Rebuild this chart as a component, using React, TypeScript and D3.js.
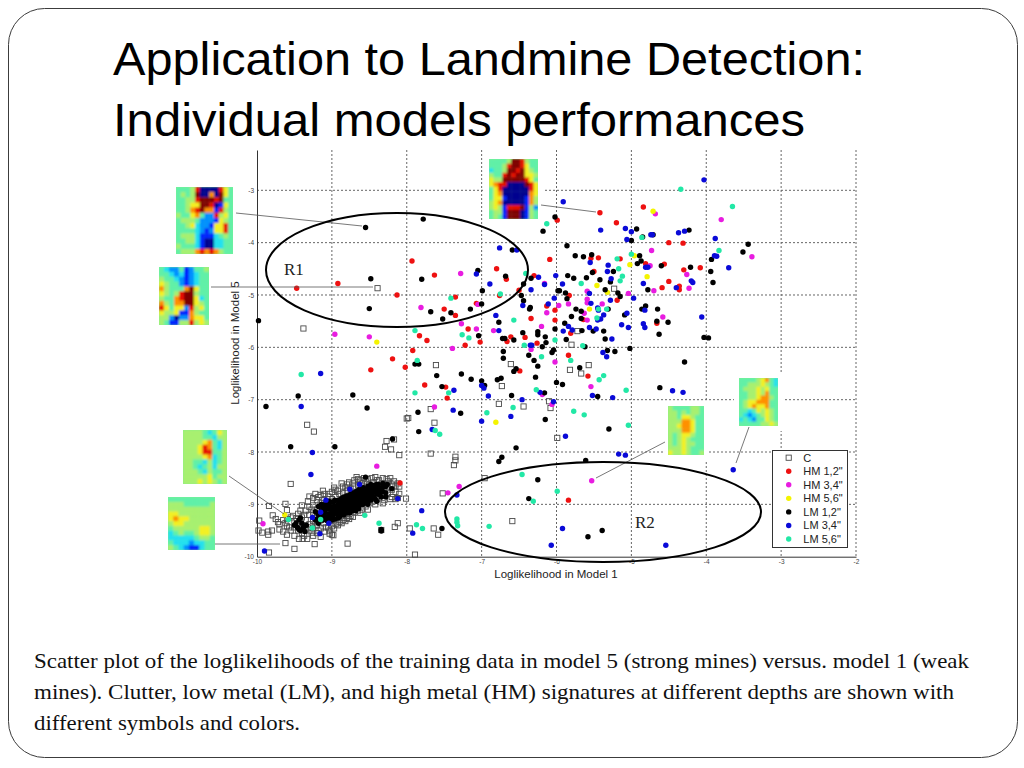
import React, { useEffect, useRef } from 'react';
import * as d3 from 'd3';

type Pt = number[];

const xTicks = [-10, -9, -8, -7, -6, -5, -4, -3, -2];
const yTicks = [-10, -9, -8, -7, -6, -5, -4, -3];

const clutterScatter: Pt[] = [
  [-8.39,-4.87],[-9.38,-5.64],[-7.61,-6.34],[-6.61,-6.32],[-5.23,-4.88],[-5.72,-5.69],[-5.80,-5.95],[-5.57,-6.34],[-5.82,-6.43],[-5.67,-6.50],
  [-6.73,-6.74],[-6.77,-7.08],[-6.44,-7.13],[-6.10,-7.03],[-6.08,-7.16],[-7.68,-7.18],[-8.0,-7.36],[-7.98,-7.35],[-7.63,-7.44],[-9.33,-7.48],
  [-9.24,-7.61],[-8.27,-7.79],[-8.29,-7.90],[-8.17,-7.76],[-8.21,-7.95],[-8.10,-8.06],[-7.68,-8.03],[-7.35,-8.09],[-7.35,-8.16],[-7.37,-8.25],
  [-5.99,-7.73],[-6.96,-8.50],[-9.55,-8.61],[-7.52,-8.79],[-8.01,-8.89],[-9.84,-9.03],[-9.62,-8.99],[-9.60,-9.11],[-9.79,-9.21],[-9.97,-9.31],
  [-6.59,-9.32],[-8.12,-9.36],[-8.16,-9.43],[-7.96,-9.46],[-7.64,-9.46],[-7.58,-9.58],[-8.34,-9.49],[-8.79,-9.75],[-9.23,-9.76],[-9.62,-9.74],
  [-9.50,-9.85],[-9.84,-9.92],[-7.89,-9.96],[-9.44,-9.66],[-9.39,-9.66],[-9.33,-9.66],[-9.98,-9.50],[-9.93,-9.54],[-9.85,-9.52],[-9.80,-9.50],
  [-9.85,-9.58],[-8.98,-9.59],[-9.03,-9.56],
];
const clutterCluster: Pt[] = [
  [-9.75,-9.28],[-9.7,-9.38],[-9.7,-9.48],[-9.65,-9.3],[-9.65,-9.52],[-9.6,-9.42],[-9.6,-9.28],[-9.6,-9.58],[-9.55,-9.25],[-9.55,-9.5],
  [-9.5,-9.32],[-9.5,-9.44],[-9.5,-9.6],[-9.45,-9.18],[-9.45,-9.5],[-9.45,-9.38],[-9.4,-9.25],[-9.4,-9.42],[-9.4,-9.55],[-9.4,-9.02],
  [-9.35,-9.12],[-9.35,-9.3],[-9.35,-9.48],[-9.3,-8.85],[-9.3,-9.05],[-9.3,-9.2],[-9.3,-9.38],[-9.3,-9.5],[-9.25,-8.88],[-9.25,-9.02],
  [-9.25,-9.16],[-9.25,-9.32],[-9.25,-9.46],[-9.25,-9.6],[-9.2,-8.92],[-9.2,-9.1],[-9.2,-9.24],[-9.2,-9.4],[-9.2,-9.55],[-9.15,-8.82],
  [-9.15,-8.98],[-9.15,-9.12],[-9.15,-9.3],[-9.15,-9.46],[-9.15,-9.62],[-9.1,-8.8],[-9.1,-8.92],[-9.1,-9.06],[-9.1,-9.2],[-9.1,-9.36],
  [-9.1,-9.52],[-9.05,-8.85],[-9.05,-9.0],[-9.05,-9.14],[-9.05,-9.28],[-9.05,-9.44],[-9,-8.76],[-9,-8.9],[-9,-9.02],[-9,-9.16],
  [-9,-9.3],[-9,-9.42],[-9,-9.58],[-8.95,-8.72],[-8.95,-8.86],[-8.95,-9.0],[-8.95,-9.12],[-8.95,-9.26],[-8.95,-9.38],[-8.9,-8.8],
  [-8.9,-8.94],[-8.9,-9.08],[-8.9,-9.22],[-8.9,-9.34],[-8.85,-8.66],[-8.85,-8.78],[-8.85,-8.92],[-8.85,-9.04],[-8.85,-9.18],[-8.85,-9.3],
  [-8.8,-8.62],[-8.8,-8.74],[-8.8,-8.86],[-8.8,-9.0],[-8.8,-9.14],[-8.8,-9.26],[-8.75,-8.7],[-8.75,-8.82],[-8.75,-8.96],[-8.75,-9.08],
  [-8.75,-9.22],[-8.7,-8.54],[-8.7,-8.66],[-8.7,-8.78],[-8.7,-8.9],[-8.7,-9.04],[-8.7,-9.16],[-8.65,-8.52],[-8.65,-8.64],[-8.65,-8.76],
  [-8.65,-8.88],[-8.65,-9.0],[-8.65,-9.12],[-8.6,-8.6],[-8.6,-8.72],[-8.6,-8.84],[-8.6,-8.96],[-8.6,-9.1],[-8.55,-8.56],[-8.55,-8.68],
  [-8.55,-8.8],[-8.55,-8.92],[-8.55,-9.04],[-8.5,-8.62],[-8.5,-8.74],[-8.5,-8.86],[-8.5,-8.98],[-8.45,-8.58],[-8.45,-8.7],[-8.45,-8.82],
  [-8.45,-8.94],[-8.4,-8.54],[-8.4,-8.66],[-8.4,-8.78],[-8.4,-8.9],[-8.35,-8.62],[-8.35,-8.72],[-8.35,-8.84],[-8.3,-8.6],[-8.3,-8.7],
  [-8.3,-8.82],[-8.3,-8.92],[-8.25,-8.56],[-8.25,-8.66],[-8.25,-8.78],[-8.2,-8.62],[-8.2,-8.72],[-8.2,-8.86],[-8.15,-8.64],[-8.15,-8.76],
  [-8.15,-8.9],[-8.1,-8.66],[-8.1,-8.8],
  [-9.72,-9.34],[-9.62,-9.36],[-9.57,-9.44],[-9.52,-9.22],[-9.47,-9.26],[-9.42,-9.12],[-9.37,-9.2],[-9.37,-9.6],[-9.32,-8.94],[-9.32,-9.44],
  [-9.27,-9.1],[-9.27,-9.54],[-9.22,-8.8],[-9.22,-9.34],[-9.18,-8.86],[-9.18,-9.5],[-9.12,-8.74],[-9.08,-9.44],[-9.03,-8.8],[-9.03,-9.5],
  [-8.97,-8.68],[-8.97,-9.46],[-8.92,-8.74],[-8.92,-9.4],[-8.87,-8.6],[-8.87,-9.36],[-8.82,-8.68],[-8.82,-9.32],[-8.77,-8.58],[-8.77,-9.28],
  [-8.72,-8.6],[-8.72,-9.24],[-8.67,-8.48],[-8.62,-8.54],[-8.62,-9.16],[-8.57,-8.5],[-8.52,-8.52],[-8.52,-9.1],[-8.47,-8.5],[-8.42,-8.48],
  [-8.42,-9.0],[-8.37,-8.54],[-8.32,-8.5],[-8.32,-8.98],[-8.27,-8.52],[-8.22,-8.5],[-8.22,-8.9],[-8.17,-8.56],[-8.12,-8.6],[-8.12,-8.88],
];
const hm12: Pt[] = [
  [-7.93,-4.35],[-8.92,-4.78],[-9.47,-4.87],[-8.13,-5.0],[-7.63,-4.62],[-6.80,-4.50],[-6.67,-4.70],[-7.35,-5.04],[-7.50,-5.27],[-7.35,-5.39],
  [-7.07,-5.16],[-6.76,-5.01],[-6.50,-4.91],[-6.30,-4.63],[-6.09,-4.32],[-5.99,-3.57],[-6.13,-5.21],[-6.02,-5.29],[-6.02,-5.48],[-6.34,-5.45],
  [-7.83,-5.78],[-7.73,-5.87],[-7.92,-6.06],[-8.19,-6.22],[-8.02,-6.38],[-8.48,-6.43],[-7.18,-5.65],[-7.02,-5.90],[-7.22,-5.96],[-6.66,-5.89],
  [-6.61,-5.80],[-6.42,-5.81],[-6.26,-5.92],[-5.42,-3.43],[-4.84,-3.32],[-5.20,-3.62],[-4.50,-4.0],[-4.31,-4.01],[-5.44,-4.29],[-5.54,-4.30],
  [-5.15,-4.31],[-5.50,-4.55],[-4.81,-4.40],[-4.56,-4.41],[-4.30,-4.52],[-4.08,-4.48],[-4.50,-4.74],[-4.59,-4.86],[-4.36,-4.83],[-4.36,-4.90],
  [-5.83,-5.01],[-5.19,-5.10],[-5.64,-5.47],[-4.66,-5.54],[-5.81,-5.73],[-5.84,-6.15],[-7.76,-6.72],[-7.48,-6.76],[-7.46,-6.97],[-6.49,-6.45],
  [-8.09,-8.59],[-5.58,-6.55],[-5.84,-8.92],
];
const hm34: Pt[] = [
  [-7.28,-4.59],[-7.81,-5.24],[-8.96,-5.75],[-8.50,-5.80],[-7.27,-5.55],[-7.07,-5.65],[-6.84,-5.68],[-7.05,-5.18],[-7.39,-6.02],[-6.16,-4.78],
  [-6.13,-5.34],[-6.20,-5.60],[-6.34,-6.04],[-6.02,-6.28],[-4.68,-3.45],[-3.80,-3.56],[-4.73,-4.15],[-3.39,-4.27],[-4.75,-4.44],[-4.26,-4.61],
  [-4.23,-4.87],[-4.70,-4.92],[-5.59,-4.93],[-5.59,-5.08],[-5.59,-5.15],[-5.04,-4.97],[-5.84,-5.17],[-5.97,-5.20],[-5.39,-5.17],[-5.63,-5.35],
  [-4.58,-5.42],[-5.59,-5.48],[-7.63,-7.14],[-8.40,-8.27],[-7.30,-8.66],[-7.45,-8.78],[-9.92,-9.37],[-6.19,-6.90],[-6.06,-7.09],[-5.54,-6.75],
  [-5.53,-8.55],
];
const hm56: Pt[] = [
  [-8.40,-5.90],[-4.71,-3.40],[-4.96,-4.25],[-5.02,-4.42],[-4.79,-4.65],[-5.46,-4.82],[-5.32,-4.95],[-5.56,-5.27],[-6.81,-7.43],[-9.63,-9.20],
];
const lm12Scatter: Pt[] = [
  [-8.55,-3.71],[-7.78,-3.55],[-8.48,-4.69],[-7.80,-4.70],[-8.50,-5.26],[-9.98,-5.49],[-7.05,-4.53],[-6.68,-4.64],[-6.59,-4.14],[-6.44,-4.79],
  [-6.34,-4.68],[-6.99,-4.92],[-7.0,-5.17],[-6.47,-5.01],[-6.44,-5.11],[-6.35,-5.24],[-6.36,-5.27],[-7.15,-5.27],[-7.41,-5.34],[-7.68,-5.32],
  [-7.52,-5.46],[-6.77,-5.52],[-7.04,-5.78],[-6.72,-5.83],[-6.69,-5.83],[-6.57,-5.86],[-6.45,-5.72],[-6.25,-5.70],[-6.25,-5.76],[-6.14,-5.91],
  [-6.19,-5.99],[-6.15,-5.80],[-6.02,-5.65],[-6.04,-6.05],[-6.06,-6.10],[-6.71,-6.08],[-6.71,-6.21],[-6.37,-6.15],[-6.30,-6.25],[-6.25,-6.36],
  [-7.89,-6.32],[-7.84,-6.32],[-6.54,-6.41],[-6.57,-6.46],[-6.02,-3.51],[-6.18,-3.78],[-5.98,-4.92],[-4.93,-3.74],[-4.85,-3.89],[-4.71,-3.85],
  [-5.0,-3.96],[-4.23,-3.76],[-5.86,-4.06],[-5.75,-4.25],[-5.64,-4.27],[-5.53,-4.23],[-4.89,-4.25],[-4.87,-4.35],[-4.92,-4.40],[-4.60,-4.44],
  [-3.44,-4.03],[-3.51,-4.18],[-3.93,-4.32],[-4.21,-4.47],[-3.94,-4.55],[-3.91,-4.76],[-5.24,-4.55],[-5.52,-4.57],[-5.60,-4.67],[-5.42,-4.71],
  [-5.85,-4.63],[-5.77,-4.68],[-5.28,-4.75],[-5.35,-4.90],[-4.78,-4.90],[-5.18,-4.96],[-5.15,-5.03],[-5.96,-4.92],[-5.88,-4.96],[-5.86,-5.07],
  [-5.74,-5.27],[-5.67,-5.31],[-5.80,-5.41],[-5.67,-5.45],[-5.31,-5.27],[-4.81,-5.21],[-4.86,-5.27],[-4.65,-5.27],[-5.09,-5.38],[-5.89,-5.54],
  [-5.66,-5.68],[-5.51,-5.69],[-5.37,-5.69],[-4.66,-5.50],[-4.51,-5.52],[-4.63,-5.75],[-4.03,-5.81],[-3.97,-5.82],[-5.35,-5.84],[-5.87,-5.85],
  [-5.62,-5.99],[-5.32,-6.06],[-5.22,-6.08],[-5.02,-6.02],[-4.29,-6.28],[-5.69,-6.39],[-9.88,-7.13],[-9.45,-6.93],[-8.72,-6.91],[-8.53,-7.16],
  [-7.60,-6.54],[-7.53,-6.75],[-7.27,-6.51],[-7.14,-6.61],[-7.0,-6.64],[-6.96,-6.73],[-6.79,-6.62],[-6.74,-6.59],[-6.60,-6.92],[-6.28,-6.57],
  [-6.16,-6.87],[-6.15,-7.38],[-6.0,-6.67],[-7.85,-7.24],[-7.28,-7.26],[-7.84,-7.61],[-8.19,-7.75],[-9.55,-7.90],[-8.96,-7.90],[-6.54,-7.92],
  [-6.73,-8.10],[-6.77,-8.18],[-8.55,-8.48],[-6.25,-8.53],[-6.37,-8.89],[-7.53,-9.46],[-8.34,-9.48],[-8.34,-9.51],[-5.92,-6.71],[-5.45,-6.94],
  [-4.62,-6.77],[-5.30,-7.56],[-5.61,-8.16],[-5.39,-9.50],[-5.58,-9.62],
];
const lm12Cluster: Pt[] = [
  [-9.48,-9.36],[-9.46,-9.44],[-9.44,-9.30],[-9.42,-9.50],[-9.40,-9.36],[-9.38,-9.44],[-9.2,-9.28],[-9.18,-9.36],[-9.16,-9.22],[-9.14,-9.12],
  [-9.12,-9.30],[-9.10,-9.02],[-9.10,-9.16],[-9.08,-9.24],[-9.06,-9.08],[-9.06,-9.32],[-9.04,-9.00],[-9.04,-9.18],[-9.02,-9.26],[-9.0,-9.06],
  [-9.0,-9.12],[-8.98,-8.96],[-8.98,-9.20],[-8.96,-9.04],[-8.96,-9.28],[-8.94,-9.12],[-8.92,-8.92],[-8.92,-9.00],[-8.92,-9.18],[-8.90,-9.08],
  [-8.90,-9.24],[-8.88,-8.96],[-8.88,-9.14],[-8.86,-8.88],[-8.86,-9.04],[-8.84,-9.20],[-8.84,-9.10],[-8.82,-8.94],[-8.82,-9.00],[-8.80,-8.84],
  [-8.80,-9.06],[-8.80,-9.16],[-8.78,-8.90],[-8.78,-8.98],[-8.76,-9.10],[-8.74,-8.80],[-8.74,-8.94],[-8.74,-9.04],[-8.72,-8.86],[-8.72,-9.12],
  [-8.70,-8.98],[-8.68,-8.76],[-8.68,-8.90],[-8.68,-9.06],[-8.66,-8.82],[-8.66,-8.96],[-8.64,-8.72],[-8.64,-9.02],[-8.62,-8.86],[-8.60,-8.78],
  [-8.60,-8.94],[-8.58,-8.68],[-8.58,-8.84],[-8.58,-9.0],[-8.56,-8.90],[-8.54,-8.74],[-8.54,-8.82],[-8.52,-8.66],[-8.52,-8.94],[-8.50,-8.78],
  [-8.50,-8.88],[-8.48,-8.70],[-8.46,-8.84],[-8.44,-8.64],[-8.44,-8.76],[-8.42,-8.90],[-8.40,-8.70],[-8.40,-8.80],[-8.38,-8.62],[-8.36,-8.76],
  [-8.34,-8.86],[-8.32,-8.68],[-8.28,-8.78],[-8.26,-8.62],[-8.20,-8.70],
  [-9.22,-9.14],[-9.22,-9.3],[-9.18,-9.04],[-9.18,-9.2],[-9.14,-9.0],[-9.14,-9.26],[-9.12,-9.2],[-9.12,-9.08],[-9.08,-8.98],[-9.08,-9.1],
  [-9.08,-9.28],[-9.04,-9.08],[-9.04,-9.22],[-9.04,-8.94],[-9.0,-8.96],[-9.0,-9.2],[-9.0,-9.3],[-8.96,-8.92],[-8.96,-9.1],[-8.96,-9.16],
  [-8.92,-9.08],[-8.92,-9.26],[-8.88,-8.9],[-8.88,-9.02],[-8.88,-9.2],[-8.84,-8.96],[-8.84,-8.86],[-8.84,-9.16],[-8.8,-8.94],[-8.8,-9.1],
  [-8.76,-8.82],[-8.76,-8.86],[-8.76,-9.0],[-8.76,-9.16],[-8.72,-8.78],[-8.72,-8.92],[-8.72,-9.06],[-8.68,-8.84],[-8.68,-9.0],[-8.68,-9.12],
  [-8.64,-8.78],[-8.64,-8.9],[-8.64,-9.08],[-8.6,-8.7],[-8.6,-8.86],[-8.6,-9.0],[-8.56,-8.76],[-8.56,-8.96],[-8.52,-8.72],[-8.52,-8.84],
  [-8.52,-9.0],[-8.48,-8.62],[-8.48,-8.78],[-8.48,-8.92],[-8.44,-8.7],[-8.44,-8.86],[-8.4,-8.62],[-8.4,-8.74],[-8.4,-8.94],[-8.36,-8.68],
  [-8.36,-8.82],[-8.32,-8.6],[-8.32,-8.76],[-8.28,-8.66],[-8.28,-8.86],[-9.5,-9.4],[-9.44,-9.48],[-9.42,-9.26],[-9.36,-9.52],[-9.34,-9.4],
];
const lm34: Pt[] = [
  [-6.76,-4.10],[-6.53,-4.14],[-7.07,-4.60],[-6.89,-4.79],[-6.24,-4.66],[-6.01,-4.63],[-6.34,-4.90],[-6.16,-4.80],[-6.03,-5.06],[-6.11,-5.17],
  [-6.45,-5.20],[-6.81,-5.39],[-6.77,-5.68],[-6.35,-5.96],[-6.33,-5.96],[-5.91,-3.22],[-4.03,-2.80],[-5.41,-3.76],[-5.08,-3.73],[-5.0,-3.79],
  [-5.06,-3.94],[-4.74,-3.85],[-4.72,-3.85],[-4.37,-3.81],[-4.29,-3.78],[-3.88,-3.92],[-3.89,-4.25],[-3.86,-4.26],[-3.70,-4.48],[-5.55,-4.38],
  [-5.31,-4.43],[-5.32,-4.55],[-4.81,-4.47],[-4.78,-4.47],[-4.84,-4.78],[-5.27,-4.69],[-4.20,-4.73],[-4.18,-4.76],[-4.40,-4.86],[-5.92,-4.79],
  [-5.56,-4.97],[-4.97,-5.06],[-5.28,-5.10],[-5.54,-5.16],[-5.45,-5.25],[-5.44,-5.29],[-4.82,-5.29],[-5.06,-5.35],[-5.37,-5.38],[-5.41,-5.46],
  [-5.45,-5.48],[-4.06,-5.42],[-5.13,-5.57],[-5.04,-5.62],[-4.84,-5.55],[-4.82,-5.62],[-5.84,-5.60],[-5.91,-5.69],[-5.79,-5.67],[-5.56,-5.62],
  [-5.47,-5.65],[-5.26,-5.84],[-5.38,-6.10],[-5.33,-6.18],[-9.15,-6.50],[-9.41,-7.13],[-9.26,-8.01],[-9.28,-8.43],[-7.37,-6.82],[-7.38,-7.20],
  [-7.0,-6.73],[-6.97,-6.78],[-6.91,-6.93],[-6.46,-7.0],[-6.22,-6.86],[-6.04,-7.04],[-6.61,-7.32],[-7.0,-7.41],[-7.66,-7.57],[-7.33,-8.82],
  [-7.80,-9.12],[-8.12,-8.89],[-7.92,-9.55],[-9.90,-9.89],[-6.07,-9.78],[-8.76,-8.71],[-8.63,-8.62],[-9.08,-8.92],[-9.15,-9.15],[-9.26,-9.25],
  [-9.04,-9.36],[-9.16,-9.56],[-4.45,-6.83],[-4.31,-6.86],[-5.52,-6.92],[-5.25,-6.96],[-5.88,-7.70],[-5.17,-8.04],[-5.08,-8.06],[-3.64,-8.34],
  [-5.92,-9.46],[-4.54,-9.78],
];
const lm56: Pt[] = [
  [-6.41,-4.59],[-6.75,-4.98],[-7.41,-5.06],[-6.57,-5.48],[-7.89,-5.68],[-7.26,-5.76],[-7.17,-5.82],[-7.86,-6.25],[-6.43,-5.96],[-6.02,-5.86],
  [-6.20,-6.18],[-6.13,-3.64],[-4.34,-2.98],[-3.65,-3.31],[-4.86,-3.90],[-5.0,-4.22],[-5.19,-4.31],[-5.17,-4.50],[-3.83,-4.15],[-5.12,-4.64],
  [-5.15,-4.73],[-5.67,-4.78],[-5.33,-5.27],[-5.44,-5.27],[-5.46,-5.44],[-5.65,-5.97],[-5.81,-6.25],[-9.41,-6.52],[-7.89,-6.87],[-7.44,-6.87],
  [-6.27,-6.81],[-6.93,-7.25],[-6.58,-7.15],[-7.62,-7.59],[-7.56,-7.66],[-6.46,-8.43],[-6.31,-8.94],[-5.99,-8.75],[-7.33,-9.28],[-7.33,-9.34],
  [-7.32,-9.41],[-6.90,-9.42],[-8.56,-9.21],[-8.37,-9.36],[-7.87,-9.39],[-7.79,-9.46],[-9.58,-9.29],[-9.15,-9.29],[-9.26,-9.45],[-5.43,-6.62],
  [-5.37,-6.54],[-5.07,-6.82],[-5.77,-7.22],[-5.63,-7.29],[-5.04,-7.49],
];

const seriesNames = ['C', 'HM 1,2"', 'HM 3,4"', 'HM 5,6"', 'LM 1,2"', 'LM 3,4"', 'LM 5,6"'];
const seriesColors = ['#fff', '#ee1111', '#e81ce0', '#f4f400', '#000', '#0a0ad8', '#22e8a6'];
const seriesData = [[...clutterScatter, ...clutterCluster], hm12, hm34, hm56, [...lm12Scatter, ...lm12Cluster], lm34, lm56];

// signature thumbnails, one digit per cell on the jet scale
const thumbA = ['444580000864','454590070964','445589998944','445669980164','445789771854','544674228564','455542221654','445632216684','444432126684','455531113454','445531003344','544431003344','455578787544'];
const thumbB = ['4322412445','4432312344','5443212344','6544212344','7544479644','6545899544','5447899634','7547799654','8646628564','6556117544','5520227664','5411558565'];
const thumbC = ['44445998544','44458998644','34459989654','54489899665','65599999864','67880000986','46800000086','46700000076','46610000175','56700000175','56518889152','45519990154','45419990154'];
const thumbD = ['555543465','555544355','555567435','555687435','555688445','555567345','554435345','554345355','555435445','555556455','555656545'];
const thumbE = ['444444444','555444445','555555555','665555555','676655555','566555555','455555665','345445665','333334554','433323344','543211344'];
const thumbF = ['54444554','55454554','55466544','55577644','55677644','55577644','54566544','54565444','54565544','55565444','65565445'];
const thumbG = ['444456743','445556543','455565644','445565744','445567754','456677744','456766744','443465654','432345654','343244654','444445565'];

const jetStops = ['#00008f', '#0020ff', '#0090ff', '#20e0f0', '#60f0a8', '#a8f070', '#f4f020', '#ff9000', '#e81000', '#800000'];

const App = () => {
  const ref = useRef<SVGSVGElement>(null);

  useEffect(() => {
    const svg = d3.select(ref.current);
    svg.selectAll('*').remove();

    svg.append('rect').attr('x', 8.5).attr('y', 8.5).attr('width', 1009).attr('height', 749)
      .attr('rx', 36).attr('fill', '#fff').attr('stroke', '#3c3c3c').attr('stroke-width', 1);

    const title = svg.append('g').attr('font-family', '"Liberation Sans", Arial, sans-serif').attr('font-size', 47).attr('fill', '#000');
    title.append('text').attr('x', 113).attr('y', 75).attr('textLength', 752).attr('lengthAdjust', 'spacingAndGlyphs').text('Application to Landmine Detection:');
    title.append('text').attr('x', 113).attr('y', 136).attr('textLength', 692).attr('lengthAdjust', 'spacingAndGlyphs').text('Individual models performances');

    const x = d3.scaleLinear().domain([-10, -2]).range([257, 856]);
    const y = d3.scaleLinear().domain([-10, -2.23]).range([556.7, 150]);

    // grid
    const grid = svg.append('g').attr('stroke', '#666').attr('stroke-width', 1).attr('stroke-dasharray', '2 2');
    grid.selectAll('line.v').data(xTicks.slice(1)).enter().append('line').attr('class', 'v')
      .attr('x1', (d) => x(d)).attr('x2', (d) => x(d)).attr('y1', 150).attr('y2', 556.7);
    grid.selectAll('line.h').data(yTicks.slice(1)).enter().append('line').attr('class', 'h')
      .attr('x1', 257).attr('x2', 856).attr('y1', (d) => y(d)).attr('y2', (d) => y(d));

    // axes
    const xAxis = svg.append('g').attr('transform', 'translate(0,556.7)')
      .call(d3.axisBottom(x).tickValues(xTicks).tickSize(0).tickPadding(3).tickFormat(d3.format('d')));
    const yAxis = svg.append('g').attr('transform', 'translate(257,0)')
      .call(d3.axisLeft(y).tickValues(yTicks).tickSize(0).tickPadding(3).tickFormat(d3.format('d')));
    [xAxis, yAxis].forEach((a) => {
      a.attr('font-family', '"Liberation Sans", Arial, sans-serif').attr('font-size', 6.5);
      a.selectAll('text').attr('fill', '#444').each(function () {
        d3.select(this).text(d3.select(this).text().replace('\u2212', '-'));
      });
      a.select('.domain').attr('stroke', '#333');
    });

    svg.append('text').attr('x', 556).attr('y', 578).attr('text-anchor', 'middle')
      .attr('font-family', '"Liberation Sans", Arial, sans-serif').attr('font-size', 11.5).attr('fill', '#222')
      .text('Loglikelihood in Model 1');
    svg.append('text').attr('transform', 'translate(239,343) rotate(-90)').attr('text-anchor', 'middle')
      .attr('font-family', '"Liberation Sans", Arial, sans-serif').attr('font-size', 11.5).attr('fill', '#222')
      .text('Loglikelihood in Model 5');

    // points, clutter underneath
    seriesData.forEach((pts, i) => {
      if (i === 0) {
        svg.append('g').selectAll('rect').data(pts).enter().append('rect')
          .attr('x', (d) => x(d[0]) - 2.6).attr('y', (d) => y(d[1]) - 2.6)
          .attr('width', 5.2).attr('height', 5.2)
          .attr('fill', 'none').attr('stroke', '#4a4a4a').attr('stroke-width', 0.9);
      } else {
        svg.append('g').selectAll('circle').data(pts).enter().append('circle')
          .attr('cx', (d) => x(d[0])).attr('cy', (d) => y(d[1])).attr('r', 2.7)
          .attr('fill', seriesColors[i]);
      }
    });

    // thumbnails
    const jet = d3.scaleLinear<string>().domain(d3.range(10)).range(jetStops);
    const defs = svg.append('defs');
    defs.append('filter').attr('id', 'soft').append('feGaussianBlur').attr('stdDeviation', 0.8);
    const thumbs: [string[], number, number, number, number][] = [
      [thumbA, 176, 187, 57, 67],
      [thumbB, 159, 267, 50, 58],
      [thumbC, 489, 159, 49, 60],
      [thumbD, 183, 430, 44, 54],
      [thumbE, 168, 497, 47, 53],
      [thumbF, 668, 406, 36, 49],
      [thumbG, 739, 378, 39, 48],
    ];
    thumbs.forEach(([rows, tx, ty, tw, th], n) => {
      svg.append('rect').attr('x', tx - 5).attr('y', ty - 5).attr('width', tw + 10).attr('height', th + 10).attr('fill', '#fff');
      defs.append('clipPath').attr('id', `thumb${n}`).append('rect').attr('x', tx).attr('y', ty).attr('width', tw).attr('height', th);
      const holder = svg.append('g').attr('clip-path', `url(#thumb${n})`);
      holder.append('rect').attr('x', tx).attr('y', ty).attr('width', tw).attr('height', th).attr('fill', jet(4.5));
      const cells = holder.append('g').attr('filter', 'url(#soft)');
      const cw = tw / rows[0].length;
      const ch = th / rows.length;
      rows.forEach((row, r) => {
        row.split('').forEach((v, c) => {
          cells.append('rect').attr('x', tx + c * cw).attr('y', ty + r * ch)
            .attr('width', cw + 0.3).attr('height', ch + 0.3).attr('fill', jet(+v));
        });
      });
    });

    // leaders
    const leaders = [
      [236, 213, 362, 226], [211, 287, 373, 287], [541, 205, 596, 212], [229, 476, 284, 514],
      [215, 544, 280, 544], [665, 442, 596, 478], [749, 427, 736, 463],
    ];
    svg.append('g').selectAll('line').data(leaders).enter().append('line')
      .attr('x1', (d) => d[0]).attr('y1', (d) => d[1]).attr('x2', (d) => d[2]).attr('y2', (d) => d[3])
      .attr('stroke', '#555').attr('stroke-width', 0.8);

    // regions
    const regions = [
      { cx: 397, cy: 270, rx: 131, ry: 57, name: 'R1', lx: 284, ly: 275 },
      { cx: 603, cy: 512, rx: 158, ry: 50, name: 'R2', lx: 635, ly: 528 },
    ];
    regions.forEach((r) => {
      svg.append('ellipse').attr('cx', r.cx).attr('cy', r.cy).attr('rx', r.rx).attr('ry', r.ry)
        .attr('fill', 'none').attr('stroke', '#000').attr('stroke-width', 2);
      svg.append('text').attr('x', r.lx).attr('y', r.ly).attr('font-family', '"Liberation Serif", serif')
        .attr('font-size', 17).attr('fill', '#222').text(r.name);
    });

    // legend
    const legend = svg.append('g');
    legend.append('rect').attr('x', 772.5).attr('y', 450.5).attr('width', 75).attr('height', 97)
      .attr('fill', '#fff').attr('stroke', '#333').attr('stroke-width', 1);
    const ly = d3.scalePoint<string>().domain(seriesNames).range([457.7, 539]);
    seriesNames.forEach((name, i) => {
      if (i === 0) {
        legend.append('rect').attr('x', 786.1).attr('y', ly(name)! - 2.6).attr('width', 5.2).attr('height', 5.2)
          .attr('fill', 'none').attr('stroke', '#4a4a4a').attr('stroke-width', 0.9);
      } else {
        legend.append('circle').attr('cx', 788.7).attr('cy', ly(name)!).attr('r', 2.7).attr('fill', seriesColors[i]);
      }
      legend.append('text').attr('x', 803.3).attr('y', ly(name)! + 3.9)
        .attr('font-family', '"Liberation Sans", Arial, sans-serif').attr('font-size', 11).attr('fill', '#222').text(name);
    });

    // caption
    const caption = [
      ['Scatter plot of the loglikelihoods of the training data in model 5 (strong mines) versus. model 1 (weak', 668, 935],
      ['mines). Clutter, low metal (LM), and high metal (HM) signatures at different depths are shown with', 699, 920],
      ['different symbols and colors.', 730, 266],
    ];
    caption.forEach(([t, by, w]) => {
      svg.append('text').attr('x', 34).attr('y', by as number).attr('textLength', w as number)
        .attr('lengthAdjust', 'spacingAndGlyphs')
        .attr('font-family', '"Liberation Serif", serif').attr('font-size', 22).attr('fill', '#111').text(t as string);
    });
  }, []);

  return <svg ref={ref} width={1024} height={768} style={{ position: 'absolute', left: 0, top: 0 }} />;
};

export default App;
